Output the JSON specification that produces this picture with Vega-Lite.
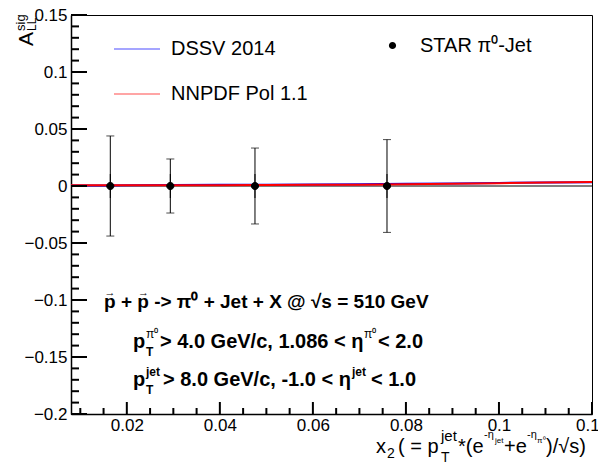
{
  "$schema": "https://vega.github.io/schema/vega-lite/v6.json",
  "width": 521,
  "height": 399,
  "autosize": {"type": "none"},
  "padding": {"left": 71, "top": 15, "right": 6, "bottom": 50},
  "background": "white",
  "config": {
    "view": {"stroke": "#000", "strokeWidth": 1},
    "font": "Liberation Sans",
    "axis": {"grid": false, "domainColor": "#000", "labelColor": "#000", "labelFont": "Liberation Sans", "labelFontSize": 17, "domainWidth": 1.5},
    "legend": {"labelFont": "Liberation Sans", "labelFontSize": 20, "labelColor": "#000", "labelLimit": 400},
    "text": {"font": "Liberation Sans", "color": "#000"}
  },
  "datasets": {
    "theory": [
      {"model": "DSSV 2014", "x": 0.008, "y": 0.0004},
      {"model": "DSSV 2014", "x": 0.015, "y": 0.0005},
      {"model": "DSSV 2014", "x": 0.02, "y": 0.0006},
      {"model": "DSSV 2014", "x": 0.03, "y": 0.0008},
      {"model": "DSSV 2014", "x": 0.04, "y": 0.0010},
      {"model": "DSSV 2014", "x": 0.05, "y": 0.0012},
      {"model": "DSSV 2014", "x": 0.06, "y": 0.0014},
      {"model": "DSSV 2014", "x": 0.07, "y": 0.0016},
      {"model": "DSSV 2014", "x": 0.08, "y": 0.0019},
      {"model": "DSSV 2014", "x": 0.09, "y": 0.0023},
      {"model": "DSSV 2014", "x": 0.1, "y": 0.0027},
      {"model": "DSSV 2014", "x": 0.11, "y": 0.0030},
      {"model": "DSSV 2014", "x": 0.12, "y": 0.0033},
      {"model": "NNPDF Pol 1.1", "x": 0.008, "y": 0.0007},
      {"model": "NNPDF Pol 1.1", "x": 0.015, "y": 0.0007},
      {"model": "NNPDF Pol 1.1", "x": 0.02, "y": 0.0006},
      {"model": "NNPDF Pol 1.1", "x": 0.03, "y": 0.0006},
      {"model": "NNPDF Pol 1.1", "x": 0.04, "y": 0.0007},
      {"model": "NNPDF Pol 1.1", "x": 0.05, "y": 0.0008},
      {"model": "NNPDF Pol 1.1", "x": 0.06, "y": 0.0010},
      {"model": "NNPDF Pol 1.1", "x": 0.07, "y": 0.0012},
      {"model": "NNPDF Pol 1.1", "x": 0.08, "y": 0.0015},
      {"model": "NNPDF Pol 1.1", "x": 0.09, "y": 0.0020},
      {"model": "NNPDF Pol 1.1", "x": 0.1, "y": 0.0025},
      {"model": "NNPDF Pol 1.1", "x": 0.11, "y": 0.0030},
      {"model": "NNPDF Pol 1.1", "x": 0.12, "y": 0.0035}
    ],
    "star": [
      {"src": "STAR π⁰-Jet", "x": 0.01645, "a": 0, "err": 0.0439},
      {"src": "STAR π⁰-Jet", "x": 0.02935, "a": 0, "err": 0.0237},
      {"src": "STAR π⁰-Jet", "x": 0.04755, "a": 0, "err": 0.0333},
      {"src": "STAR π⁰-Jet", "x": 0.07593, "a": 0, "err": 0.0407}
    ],
    "xmajor": [{"v": 0.02}, {"v": 0.04}, {"v": 0.06}, {"v": 0.08}, {"v": 0.1}, {"v": 0.12}],
    "xminor": [{"v": 0.01}, {"v": 0.015}, {"v": 0.025}, {"v": 0.03}, {"v": 0.035}, {"v": 0.045}, {"v": 0.05}, {"v": 0.055}, {"v": 0.065}, {"v": 0.07}, {"v": 0.075}, {"v": 0.085}, {"v": 0.09}, {"v": 0.095}, {"v": 0.105}, {"v": 0.11}, {"v": 0.115}],
    "ymajor": [{"v": -0.2}, {"v": -0.15}, {"v": -0.1}, {"v": -0.05}, {"v": 0}, {"v": 0.05}, {"v": 0.1}, {"v": 0.15}],
    "yminor": [{"v": -0.19}, {"v": -0.18}, {"v": -0.17}, {"v": -0.16}, {"v": -0.14}, {"v": -0.13}, {"v": -0.12}, {"v": -0.11}, {"v": -0.09}, {"v": -0.08}, {"v": -0.07}, {"v": -0.06}, {"v": -0.04}, {"v": -0.03}, {"v": -0.02}, {"v": -0.01}, {"v": 0.01}, {"v": 0.02}, {"v": 0.03}, {"v": 0.04}, {"v": 0.06}, {"v": 0.07}, {"v": 0.08}, {"v": 0.09}, {"v": 0.11}, {"v": 0.12}, {"v": 0.13}, {"v": 0.14}]
  },
  "layer": [
    {
      "data": {"values": [{}]},
      "mark": {"type": "rule", "color": "#000", "strokeWidth": 1},
      "encoding": {"y": {"datum": 0, "type": "quantitative"}}
    },
    {
      "data": {"name": "theory"},
      "mark": {"type": "line", "strokeWidth": 2},
      "encoding": {
        "x": {"field": "x", "type": "quantitative",
          "scale": {"domain": [0.008, 0.12], "nice": false, "zero": false},
          "axis": {"title": null, "orient": "bottom", "values": [0.02, 0.04, 0.06, 0.08, 0.1, 0.12], "format": "~g", "ticks": false, "labelPadding": 3, "labelFlush": false, "labelOverlap": false}},
        "y": {"field": "y", "type": "quantitative",
          "scale": {"domain": [-0.2, 0.15], "nice": false, "zero": false},
          "axis": {"title": null, "orient": "left", "values": [-0.2, -0.15, -0.1, -0.05, 0, 0.05, 0.1, 0.15], "format": "~g", "ticks": false, "labelPadding": 4, "labelFlush": false, "labelOverlap": false}},
        "color": {"field": "model", "type": "nominal",
          "scale": {"domain": ["DSSV 2014", "NNPDF Pol 1.1"], "range": ["#0000ff", "#ff0000"]},
          "legend": {"title": null, "orient": "none", "legendX": 42, "legendY": 10, "symbolType": "stroke", "symbolSize": 2116, "symbolStrokeWidth": 1.2, "symbolOpacity": 0.7, "labelOffset": 10, "rowPadding": 11}}
      }
    },
    {
      "data": {"name": "xmajor"},
      "mark": {"type": "tick", "orient": "vertical", "size": 12, "thickness": 2, "color": "#000", "opacity": 1, "yOffset": -6},
      "encoding": {"x": {"field": "v", "type": "quantitative"}, "y": {"datum": -0.2, "type": "quantitative"}}
    },
    {
      "data": {"name": "xminor"},
      "mark": {"type": "tick", "orient": "vertical", "size": 6, "thickness": 2, "color": "#000", "opacity": 1, "yOffset": -3},
      "encoding": {"x": {"field": "v", "type": "quantitative"}, "y": {"datum": -0.2, "type": "quantitative"}}
    },
    {
      "data": {"name": "ymajor"},
      "mark": {"type": "tick", "orient": "horizontal", "size": 16, "thickness": 2, "color": "#000", "opacity": 1, "xOffset": 8},
      "encoding": {"y": {"field": "v", "type": "quantitative"}, "x": {"datum": 0.008, "type": "quantitative"}}
    },
    {
      "data": {"name": "yminor"},
      "mark": {"type": "tick", "orient": "horizontal", "size": 8, "thickness": 2, "color": "#000", "opacity": 1, "xOffset": 4},
      "encoding": {"y": {"field": "v", "type": "quantitative"}, "x": {"datum": 0.008, "type": "quantitative"}}
    },
    {
      "data": {"name": "star"},
      "mark": {"type": "errorbar", "ticks": {"size": 8, "color": "#000"}, "rule": {"color": "#000", "strokeWidth": 1}},
      "encoding": {
        "x": {"field": "x", "type": "quantitative"},
        "y": {"field": "a", "type": "quantitative"},
        "yError": {"field": "err"}
      }
    },
    {
      "data": {"name": "star"},
      "mark": {"type": "point", "filled": true, "size": 576, "color": "#000", "stroke": "#000", "strokeWidth": 1, "opacity": 1},
      "encoding": {
        "x": {"field": "x", "type": "quantitative"},
        "y": {"field": "a", "type": "quantitative"},
        "shape": {"field": "src", "type": "nominal",
          "scale": {"range": ["M0,-1L0,1M-0.3,0A0.3,0.3,0,1,1,0.3,0A0.3,0.3,0,1,1,-0.3,0Z"]},
          "legend": {"title": null, "orient": "none", "legendX": 309, "legendY": 18, "labelOffset": 15, "symbolFillColor": "#000", "symbolStrokeColor": "#000", "symbolStrokeWidth": 1, "symbolSize": 576}}
      }
    },
    {"data": {"values": [{}]}, "mark": {"type": "text", "text": "p + p -> π⁰ + Jet + X @  √s = 510 GeV", "fontSize": 19, "fontWeight": "bold", "align": "left", "baseline": "alphabetic"},
     "encoding": {"x": {"datum": 0.015094, "type": "quantitative"}, "y": {"datum": -0.107, "type": "quantitative"}}},
    {"data": {"values": [{}]}, "mark": {"type": "text", "text": "→", "fontSize": 11, "fontWeight": "bold", "align": "left", "baseline": "alphabetic"},
     "encoding": {"x": {"datum": 0.015202, "type": "quantitative"}, "y": {"datum": -0.0965, "type": "quantitative"}}},
    {"data": {"values": [{}]}, "mark": {"type": "text", "text": "→", "fontSize": 11, "fontWeight": "bold", "align": "left", "baseline": "alphabetic"},
     "encoding": {"x": {"datum": 0.022405, "type": "quantitative"}, "y": {"datum": -0.0965, "type": "quantitative"}}},

    {"data": {"values": [{}]}, "mark": {"type": "text", "text": "p", "fontSize": 20, "fontWeight": "bold", "align": "left", "baseline": "alphabetic"},
     "encoding": {"x": {"datum": 0.021328, "type": "quantitative"}, "y": {"datum": -0.1421, "type": "quantitative"}}},
    {"data": {"values": [{}]}, "mark": {"type": "text", "text": "π⁰", "fontSize": 12, "align": "left", "baseline": "alphabetic"},
     "encoding": {"x": {"datum": 0.024123, "type": "quantitative"}, "y": {"datum": -0.1333, "type": "quantitative"}}},
    {"data": {"values": [{}]}, "mark": {"type": "text", "text": "T", "fontSize": 12, "fontWeight": "bold", "align": "left", "baseline": "alphabetic"},
     "encoding": {"x": {"datum": 0.024123, "type": "quantitative"}, "y": {"datum": -0.1491, "type": "quantitative"}}},
    {"data": {"values": [{}]}, "mark": {"type": "text", "text": "> 4.0 GeV/c, 1.086 < η", "fontSize": 20, "fontWeight": "bold", "align": "left", "baseline": "alphabetic"},
     "encoding": {"x": {"datum": 0.027133, "type": "quantitative"}, "y": {"datum": -0.1421, "type": "quantitative"}}},
    {"data": {"values": [{}]}, "mark": {"type": "text", "text": "π⁰", "fontSize": 12, "align": "left", "baseline": "alphabetic"},
     "encoding": {"x": {"datum": 0.070986, "type": "quantitative"}, "y": {"datum": -0.1333, "type": "quantitative"}}},
    {"data": {"values": [{}]}, "mark": {"type": "text", "text": "< 2.0", "fontSize": 20, "fontWeight": "bold", "align": "left", "baseline": "alphabetic"},
     "encoding": {"x": {"datum": 0.073996, "type": "quantitative"}, "y": {"datum": -0.1421, "type": "quantitative"}}},

    {"data": {"values": [{}]}, "mark": {"type": "text", "text": "p", "fontSize": 20, "fontWeight": "bold", "align": "left", "baseline": "alphabetic"},
     "encoding": {"x": {"datum": 0.021328, "type": "quantitative"}, "y": {"datum": -0.1754, "type": "quantitative"}}},
    {"data": {"values": [{}]}, "mark": {"type": "text", "text": "jet", "fontSize": 12, "fontWeight": "bold", "align": "left", "baseline": "alphabetic"},
     "encoding": {"x": {"datum": 0.024123, "type": "quantitative"}, "y": {"datum": -0.1667, "type": "quantitative"}}},
    {"data": {"values": [{}]}, "mark": {"type": "text", "text": "T", "fontSize": 12, "fontWeight": "bold", "align": "left", "baseline": "alphabetic"},
     "encoding": {"x": {"datum": 0.024123, "type": "quantitative"}, "y": {"datum": -0.1825, "type": "quantitative"}}},
    {"data": {"values": [{}]}, "mark": {"type": "text", "text": "> 8.0 GeV/c, -1.0 < η", "fontSize": 20, "fontWeight": "bold", "align": "left", "baseline": "alphabetic"},
     "encoding": {"x": {"datum": 0.027777, "type": "quantitative"}, "y": {"datum": -0.1754, "type": "quantitative"}}},
    {"data": {"values": [{}]}, "mark": {"type": "text", "text": "jet", "fontSize": 12, "fontWeight": "bold", "align": "left", "baseline": "alphabetic"},
     "encoding": {"x": {"datum": 0.068406, "type": "quantitative"}, "y": {"datum": -0.1667, "type": "quantitative"}}},
    {"data": {"values": [{}]}, "mark": {"type": "text", "text": "< 1.0", "fontSize": 20, "fontWeight": "bold", "align": "left", "baseline": "alphabetic"},
     "encoding": {"x": {"datum": 0.072491, "type": "quantitative"}, "y": {"datum": -0.1754, "type": "quantitative"}}},

    {"data": {"values": [{}]}, "mark": {"type": "text", "text": "x", "fontSize": 20, "align": "left", "baseline": "alphabetic"},
     "encoding": {"x": {"datum": 0.073566, "type": "quantitative"}, "y": {"datum": -0.23421, "type": "quantitative"}}},
    {"data": {"values": [{}]}, "mark": {"type": "text", "text": "2", "fontSize": 14, "align": "left", "baseline": "alphabetic"},
     "encoding": {"x": {"datum": 0.075931, "type": "quantitative"}, "y": {"datum": -0.2386, "type": "quantitative"}}},
    {"data": {"values": [{}]}, "mark": {"type": "text", "text": "( = p", "fontSize": 20, "align": "left", "baseline": "alphabetic"},
     "encoding": {"x": {"datum": 0.078296, "type": "quantitative"}, "y": {"datum": -0.23421, "type": "quantitative"}}},
    {"data": {"values": [{}]}, "mark": {"type": "text", "text": "jet", "fontSize": 15, "align": "left", "baseline": "alphabetic"},
     "encoding": {"x": {"datum": 0.087540, "type": "quantitative"}, "y": {"datum": -0.22368, "type": "quantitative"}}},
    {"data": {"values": [{}]}, "mark": {"type": "text", "text": "T", "fontSize": 14, "align": "left", "baseline": "alphabetic"},
     "encoding": {"x": {"datum": 0.087540, "type": "quantitative"}, "y": {"datum": -0.24211, "type": "quantitative"}}},
    {"data": {"values": [{}]}, "mark": {"type": "text", "text": "*(e", "fontSize": 20, "align": "left", "baseline": "alphabetic"},
     "encoding": {"x": {"datum": 0.091194, "type": "quantitative"}, "y": {"datum": -0.23421, "type": "quantitative"}}},
    {"data": {"values": [{}]}, "mark": {"type": "text", "text": "-η", "fontSize": 11, "align": "left", "baseline": "alphabetic"},
     "encoding": {"x": {"datum": 0.096783, "type": "quantitative"}, "y": {"datum": -0.22105, "type": "quantitative"}}},
    {"data": {"values": [{}]}, "mark": {"type": "text", "text": "jet", "fontSize": 8, "align": "left", "baseline": "alphabetic"},
     "encoding": {"x": {"datum": 0.099148, "type": "quantitative"}, "y": {"datum": -0.22544, "type": "quantitative"}}},
    {"data": {"values": [{}]}, "mark": {"type": "text", "text": "+e", "fontSize": 20, "align": "left", "baseline": "alphabetic"},
     "encoding": {"x": {"datum": 0.101083, "type": "quantitative"}, "y": {"datum": -0.23421, "type": "quantitative"}}},
    {"data": {"values": [{}]}, "mark": {"type": "text", "text": "-η", "fontSize": 11, "align": "left", "baseline": "alphabetic"},
     "encoding": {"x": {"datum": 0.106028, "type": "quantitative"}, "y": {"datum": -0.22105, "type": "quantitative"}}},
    {"data": {"values": [{}]}, "mark": {"type": "text", "text": "π⁰", "fontSize": 8, "align": "left", "baseline": "alphabetic"},
     "encoding": {"x": {"datum": 0.108178, "type": "quantitative"}, "y": {"datum": -0.22544, "type": "quantitative"}}},
    {"data": {"values": [{}]}, "mark": {"type": "text", "text": ")/√s)", "fontSize": 20, "align": "left", "baseline": "alphabetic"},
     "encoding": {"x": {"datum": 0.110113, "type": "quantitative"}, "y": {"datum": -0.23421, "type": "quantitative"}}},

    {"data": {"values": [{}]}, "mark": {"type": "text", "text": "A", "fontSize": 21, "angle": 270, "align": "left", "baseline": "alphabetic"},
     "encoding": {"x": {"datum": -0.00017, "type": "quantitative"}, "y": {"datum": 0.1228, "type": "quantitative"}}},
    {"data": {"values": [{}]}, "mark": {"type": "text", "text": "sig", "fontSize": 13, "angle": 270, "align": "left", "baseline": "alphabetic"},
     "encoding": {"x": {"datum": -0.001889, "type": "quantitative"}, "y": {"datum": 0.13596, "type": "quantitative"}}},
    {"data": {"values": [{}]}, "mark": {"type": "text", "text": "LL", "fontSize": 12, "angle": 270, "align": "left", "baseline": "alphabetic"},
     "encoding": {"x": {"datum": 0.000476, "type": "quantitative"}, "y": {"datum": 0.13596, "type": "quantitative"}}}
  ]
}
